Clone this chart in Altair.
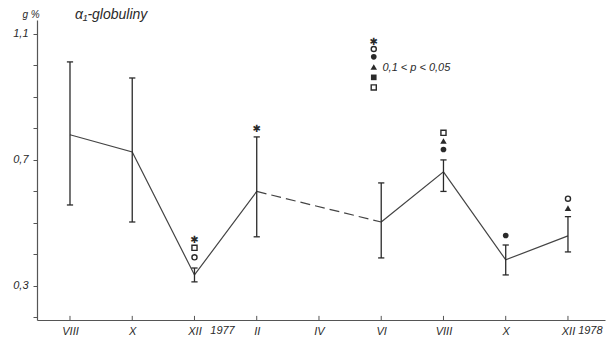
import altair as alt
import pandas as pd

# --- data ---
months = ["VIII", "X", "XII", "II", "IV", "VI", "VIII", "X", "XII"]
month_pos = [0, 1, 2, 3, 4, 5, 6, 7, 8]

mean_pos = [0, 1, 2, 3, 5, 6, 7, 8]
means = [0.780, 0.725, 0.335, 0.600, 0.503, 0.662, 0.383, 0.459]
err_hi = [1.011, 0.960, 0.357, 0.773, 0.627, 0.700, 0.430, 0.520]
err_lo = [0.557, 0.503, 0.313, 0.456, 0.389, 0.600, 0.335, 0.408]
segment = ["a", "a", "a", "a", "b", "b", "b", "b"]

# significance symbols above points
sym_pos = [2, 2, 2, 3, 6, 6, 6, 7, 8, 8]
sym_val = [0.446, 0.421, 0.391, 0.798, 0.786, 0.760, 0.733, 0.460, 0.577, 0.547]
sym_kind = ["star", "open_square", "open_circle", "star",
            "open_square", "triangle", "dot", "dot", "open_circle", "triangle"]

# legend column
legend_kind = ["star", "open_circle", "dot", "triangle", "square", "open_square"]
legend_val = [1.075, 1.052, 1.027, 0.995, 0.962, 0.930]
legend_pos = [4.88] * 6
legend_text = "0,1 < p < 0,05"

years = ["1977", "1978"]
year_pos = [2.45, 8.36]

y_ticks = [0.2, 0.3, 0.4, 0.5, 0.6, 0.7, 0.8, 0.9, 1.0, 1.1]

# --- build tables ---
pts = pd.DataFrame({"pos": mean_pos, "mean": means, "hi": err_hi, "lo": err_lo, "seg": segment})
dashed = pts[pts["pos"].isin([3, 5])]
syms = pd.DataFrame({"pos": sym_pos + legend_pos, "val": sym_val + legend_val,
                     "kind": sym_kind + legend_kind})
ticks = pd.DataFrame({"pos": month_pos, "lab": months})
yrs = pd.DataFrame({"pos": year_pos, "txt": years})
leg_txt = pd.DataFrame({"pos": [5.02], "val": [0.992], "txt": [legend_text]})

XDOM = [-0.53, 8.595]
YDOM = [0.192, 1.144]
INK = "#2a2a2a"
FONT = "Liberation Sans"

xs = alt.Scale(domain=XDOM, nice=False, zero=False)
ys = alt.Scale(domain=YDOM, nice=False, zero=False)

label_expr = ("(abs(datum.value-0.3)<0.001 || abs(datum.value-0.7)<0.001 || abs(datum.value-1.1)<0.001)"
              " ? replace(format(datum.value,'.1f'),'.',',') : ''")

xaxis = alt.Axis(values=month_pos, labelExpr="['VIII','X','XII','II','IV','VI','VIII','X','XII'][datum.value]",
                 ticks=False, grid=False, domainColor="#555", domainWidth=1,
                 labelFont=FONT, labelFontStyle="italic", labelFontSize=11, labelColor=INK,
                 labelPadding=5, labelOverlap=False, title=None)
yaxis = alt.Axis(values=y_ticks, labelExpr=label_expr, grid=False, tickSize=4, tickColor="#555",
                 domainColor="#555", domainWidth=1.2, labelFont=FONT, labelFontStyle="italic",
                 labelFontSize=11, labelColor=INK, labelPadding=5, labelOverlap=False,
                 labelBound=False, title=None)


def X(field):
    return alt.X(field, scale=xs, axis=xaxis)


def Y(field):
    return alt.Y(field, scale=ys, axis=yaxis)


line_solid = alt.Chart(pts).mark_line(color="#444", strokeWidth=1.2).encode(
    x=X("pos:Q"), y=Y("mean:Q"), detail="seg:N")
line_dash = alt.Chart(dashed).mark_line(color="#444", strokeWidth=1.2, strokeDash=[10, 5]).encode(
    x=X("pos:Q"), y=Y("mean:Q"))

err = alt.Chart(pts).mark_rule(color=INK, strokeWidth=1.3).encode(
    x=X("pos:Q"), y=Y("lo:Q"), y2="hi:Q")
caps_hi = alt.Chart(pts).transform_calculate(a="datum.pos-0.05", b="datum.pos+0.05").mark_rule(
    color=INK, strokeWidth=1.3).encode(x=X("a:Q"), x2="b:Q", y=Y("hi:Q"))
caps_lo = alt.Chart(pts).transform_calculate(a="datum.pos-0.05", b="datum.pos+0.05").mark_rule(
    color=INK, strokeWidth=1.3).encode(x=X("a:Q"), x2="b:Q", y=Y("lo:Q"))

xticks = alt.Chart(ticks).transform_calculate(y0="0.192", y1="0.205").mark_rule(
    color="#555", strokeWidth=1).encode(x=X("pos:Q"), y=Y("y0:Q"), y2="y1:Q")

shape_scale = alt.Scale(domain=["open_circle", "dot", "triangle", "square", "open_square"],
                        range=["circle", "circle", "triangle-up", "square", "square"])

filled_syms = alt.Chart(syms).transform_filter(
    alt.FieldOneOfPredicate(field="kind", oneOf=["dot", "square"])).mark_point(
    filled=True, color=INK, opacity=1, size=32).encode(
    x=X("pos:Q"), y=Y("val:Q"),
    shape=alt.Shape("kind:N", scale=shape_scale, legend=None))
tri_syms = alt.Chart(syms).transform_filter(alt.datum.kind == "triangle").mark_point(
    filled=True, color=INK, opacity=1, size=42).encode(
    x=X("pos:Q"), y=Y("val:Q"),
    shape=alt.Shape("kind:N", scale=shape_scale, legend=None))
open_syms = alt.Chart(syms).transform_filter(
    alt.FieldOneOfPredicate(field="kind", oneOf=["open_circle", "open_square"])).mark_point(
    filled=False, color=INK, opacity=1, size=26, strokeWidth=1.4).encode(
    x=X("pos:Q"), y=Y("val:Q"),
    shape=alt.Shape("kind:N", scale=shape_scale, legend=None))
star_syms = alt.Chart(syms).transform_filter(alt.datum.kind == "star").mark_text(
    text="✱", font="DejaVu Sans", fontSize=10, color=INK, baseline="middle", align="center").encode(
    x=X("pos:Q"), y=Y("val:Q"))

legend_label = alt.Chart(leg_txt).mark_text(align="left", baseline="middle", font=FONT,
                                            fontStyle="italic", fontSize=11, color=INK).encode(
    x=X("pos:Q"), y=Y("val:Q"), text="txt:N")

year_labels = alt.Chart(yrs).transform_calculate(v="0.157").mark_text(
    align="center", baseline="middle", font=FONT, fontStyle="italic", fontSize=11, color=INK).encode(
    x=X("pos:Q"), y=Y("v:Q"), text="txt:N")

title_txt = alt.Chart(pd.DataFrame({"t": ["α₁-globuliny"]})).mark_text(
    align="left", baseline="middle", font=FONT, fontStyle="italic", fontSize=14, color=INK).encode(
    x=alt.value(38), y=alt.value(-5), text="t:N")
unit_txt = alt.Chart(pd.DataFrame({"t": ["g %"]})).mark_text(
    align="center", baseline="middle", font=FONT, fontStyle="italic", fontSize=10, color=INK).encode(
    x=alt.value(-6), y=alt.value(-5), text="t:N")

chart = alt.layer(
    line_solid, line_dash, err, caps_hi, caps_lo, xticks,
    filled_syms, tri_syms, open_syms, star_syms, legend_label, year_labels, title_txt, unit_txt
).properties(
    width=568, height=300,
    padding={"left": 37, "top": 20, "right": 6, "bottom": 21},
    autosize=alt.AutoSizeParams(type="none"),
    background="white",
).configure_view(stroke=None)

chart.save("out.html", embed_options={"renderer": "svg", "actions": False})
